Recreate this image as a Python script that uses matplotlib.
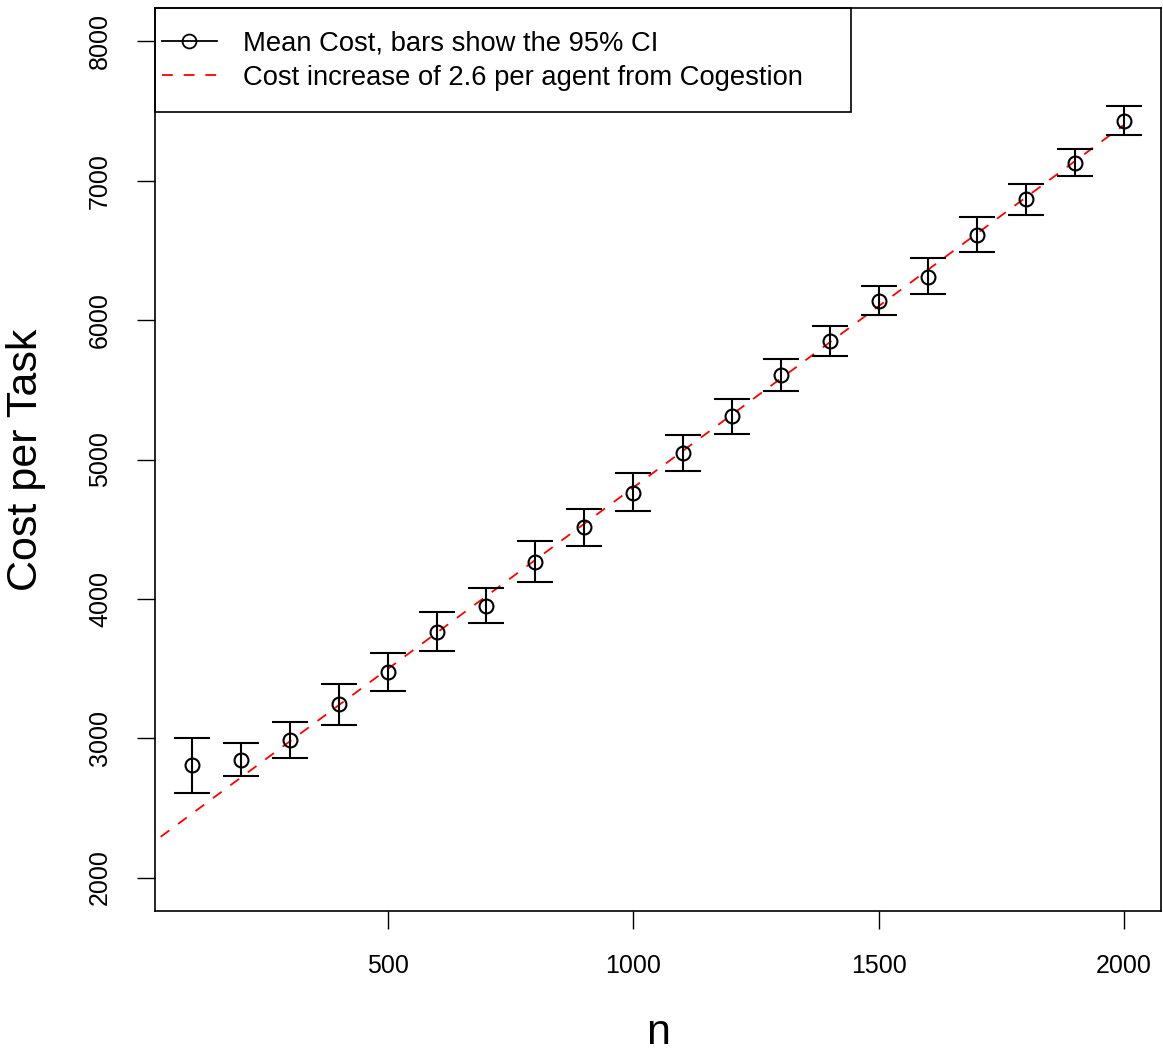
import matplotlib
matplotlib.use("Agg")
from matplotlib import pyplot as plt
from matplotlib.lines import Line2D
from matplotlib.patches import Rectangle

plt.rcParams['font.family'] = ['Liberation Sans', 'DejaVu Sans']

# number of agents
n = [100, 200, 300, 400, 500, 600, 700, 800, 900, 1000,
     1100, 1200, 1300, 1400, 1500, 1600, 1700, 1800, 1900, 2000]
# mean cost per task and the 95% CI bounds
mean_cost = [2811, 2846, 2990, 3248, 3478, 3765, 3951, 4267, 4518, 4762,
             5049, 5314, 5608, 5852, 6139, 6311, 6613, 6871, 7129, 7430]
ci_upper = [3000, 2968, 3119, 3392, 3614, 3908, 4080, 4417, 4647, 4905,
            5178, 5437, 5723, 5961, 6247, 6448, 6742, 6979, 7230, 7538]
ci_lower = [2610, 2732, 2861, 3098, 3341, 3628, 3829, 4123, 4382, 4633,
            4920, 5185, 5494, 5745, 6039, 6189, 6491, 6756, 7036, 7330]

# congestion fit: cost = INTERCEPT + SLOPE * n, drawn for n in [0, 2000]
INTERCEPT = 2200
SLOPE = 2.6
fit_n = [0, 2000]
fit_cost = [INTERCEPT + SLOPE * v for v in fit_n]

W, H = 1163, 1052
fig = plt.figure(figsize=(W / 100, H / 100), dpi=100)
ax = fig.add_axes([155 / W, 1 - 911 / H, (1161 - 155) / W, (911 - 8) / H])

yerr = [[m - lo for m, lo in zip(mean_cost, ci_lower)],
        [hi - m for m, hi in zip(mean_cost, ci_upper)]]
ax.errorbar(n, mean_cost, yerr=yerr, fmt='o', mfc='none', mec='black', mew=1.5,
            ms=10, ecolor='black', elinewidth=1.5, capsize=13, capthick=1.5, zorder=3)
ax.plot(fit_n, fit_cost, color='red', lw=1.3, dashes=(6, 6), zorder=2)

ax.set_xlim(24, 2076)
ax.set_ylim(1760, 8240)
ax.set_xticks([500, 1000, 1500, 2000])
ax.set_yticks([2000, 3000, 4000, 5000, 6000, 7000, 8000])
ax.tick_params(direction='out', length=13, width=1, labelsize=18, pad=18)
for lbl in ax.get_yticklabels():
    lbl.set_rotation(90)
    lbl.set_va('center')
for sp in ax.spines.values():
    sp.set_linewidth(1.2)

ax.set_xlabel('n', fontsize=31)
ax.set_ylabel('Cost per Task', fontsize=31)
ax.xaxis.set_label_coords(0.5, -0.135)
ax.yaxis.set_label_coords(-0.128, 0.5)
ax.xaxis.label.set_va('center')
ax.yaxis.label.set_va('center')

handles = [
    Line2D([], [], color='black', lw=1.3, marker='o', mfc='none', mec='black', ms=10, mew=1.3),
    Line2D([], [], color='red', lw=1.3, dashes=(6, 6)),
]
labels = ['Mean Cost, bars show the 95% CI',
          'Cost increase of 2.6 per agent from Cogestion']
ax.legend(handles, labels, loc='upper left', bbox_to_anchor=(0.0, 1 - 16 / 903), frameon=False,
          fontsize=19.7, handlelength=2.0, handletextpad=0.95, borderpad=0.25,
          borderaxespad=0.0, labelspacing=0.3)
ax.add_patch(Rectangle((0, 0.885), 0.692, 0.115, transform=ax.transAxes, fill=False,
                       ec='black', lw=1.2, zorder=5, clip_on=False))

fig.savefig('out.png', dpi=100)
